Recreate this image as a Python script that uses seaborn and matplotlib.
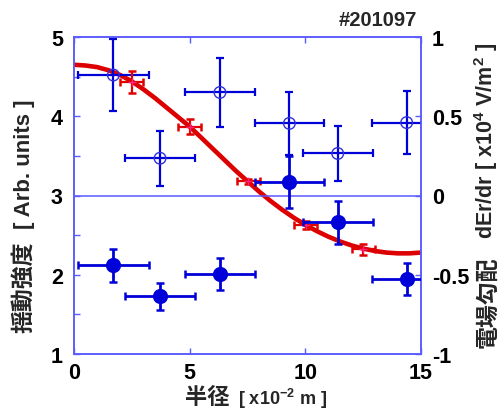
import numpy as np
import pandas as pd
import matplotlib
matplotlib.use("Agg")
import matplotlib.pyplot as plt
import seaborn as sns
from matplotlib.ticker import MultipleLocator, FixedLocator

sns.set_style("white")
plt.rcParams['font.family'] = ['Liberation Sans', 'Noto Sans CJK JP']
plt.rcParams['font.weight'] = 'bold'
plt.rcParams['mathtext.fontset'] = 'custom'
plt.rcParams['mathtext.rm'] = 'Liberation Sans:bold'
plt.rcParams['mathtext.bf'] = 'Liberation Sans:bold'
plt.rcParams['mathtext.it'] = 'Liberation Sans:bold:italic'

# ---- data ----
# open circles (fluctuation intensity, left axis)
open_x = [1.70, 3.72, 6.31, 9.31, 11.40, 14.38]
open_y = [4.52, 3.47, 4.30, 3.91, 3.53, 3.92]
open_xerr = [1.53, 1.51, 1.53, 1.48, 1.51, 1.49]
open_yerr = [0.46, 0.35, 0.43, 0.40, 0.35, 0.40]

# filled circles (dEr/dr, right axis)
fill_x = [1.70, 3.72, 6.31, 9.31, 11.40, 14.38]
fill_y = [-0.44, -0.635, -0.495, 0.085, -0.17, -0.525]
fill_xerr = [1.53, 1.51, 1.53, 1.50, 1.51, 1.49]
fill_yerr = [0.105, 0.085, 0.10, 0.165, 0.135, 0.10]

# red points (left axis)
red_x = [2.49, 5.01, 7.54, 10.02, 12.51]
red_y = [4.43, 3.87, 3.18, 2.63, 2.32]
red_xerr = [0.48, 0.50, 0.51, 0.50, 0.50]
red_yerr = [0.14, 0.09, 0.03, 0.05, 0.07]

# red fitted curve (left axis)
curve_x = [0.0, 0.5, 1.0, 1.5, 2.0, 2.5, 3.0, 3.5, 4.0, 4.5, 5.0, 5.5, 6.0, 6.5,
           7.0, 7.5, 8.0, 8.5, 9.0, 9.5, 10.0, 10.5, 11.0, 11.5, 12.0, 12.5,
           13.0, 13.5, 14.0, 14.5, 15.0]
curve_y = [4.65, 4.64, 4.62, 4.58, 4.52, 4.44, 4.34, 4.23, 4.11, 3.99, 3.87,
           3.73, 3.59, 3.45, 3.31, 3.18, 3.05, 2.93, 2.82, 2.72, 2.63, 2.55,
           2.48, 2.42, 2.37, 2.33, 2.30, 2.28, 2.27, 2.27, 2.28]

xticks = [0, 5, 10, 15]
left_ticks = [1, 2, 3, 4, 5]
right_ticks = [-1, -0.5, 0, 0.5, 1]
right_labels = ['-1', '-0.5', '0', '0.5', '1']

# ---- styling ----
W, H = 502, 410
SPINE = '#5a5aff'
BLUE = '#0000d8'
RED = '#e00000'

fig = plt.figure(figsize=(W / 100, H / 100), dpi=100)
ax = fig.add_axes([74 / W, 1 - 355 / H, (421 - 74) / W, (355 - 38) / H])
ax2 = ax.twinx()

curve_df = pd.DataFrame({'r': curve_x, 'v': curve_y})
sns.lineplot(data=curve_df, x='r', y='v', ax=ax, color='#dd0000', lw=3.3,
             sort=False, zorder=2, legend=False)

ax.errorbar(open_x, open_y, xerr=open_xerr, yerr=open_yerr, fmt='none',
            ecolor=BLUE, elinewidth=1.6, capsize=3, capthick=1.6, zorder=3)
sns.scatterplot(x=open_x, y=open_y, ax=ax, s=70, facecolor='none',
                edgecolor='#3030e0', linewidth=1.0, zorder=4)

ax.errorbar(red_x, red_y, xerr=red_xerr, yerr=red_yerr, fmt='none',
            ecolor=RED, elinewidth=1.6, capsize=3, capthick=1.8, zorder=5)
sns.scatterplot(x=red_x, y=red_y, ax=ax, marker='+', s=30, color='#ff2080',
                linewidth=1.0, zorder=6)

ax2.axhline(0, color=SPINE, lw=1.1, zorder=1)
ax2.errorbar(fill_x, fill_y, xerr=fill_xerr, yerr=fill_yerr, fmt='none',
             ecolor=BLUE, elinewidth=2.0, capsize=3, capthick=1.8, zorder=3)
sns.scatterplot(x=fill_x, y=fill_y, ax=ax2, s=120, color=BLUE,
                edgecolor=BLUE, linewidth=0, zorder=4)

ax.set_xlim(0, 15)
ax.set_ylim(1, 5)
ax2.set_ylim(-1, 1)
ax.set_xlabel('')
ax.set_ylabel('')
ax2.set_ylabel('')

ax.xaxis.set_major_locator(FixedLocator(xticks))
ax.yaxis.set_major_locator(FixedLocator(left_ticks))
ax.yaxis.set_minor_locator(MultipleLocator(0.5))
ax2.yaxis.set_major_locator(FixedLocator(right_ticks))
ax2.set_yticklabels(right_labels)

for a in (ax, ax2):
    for s in a.spines.values():
        s.set_color(SPINE)
        s.set_linewidth(1.1)
        s.set_visible(True)

TS = 15.5
ax.tick_params(axis='x', which='major', direction='in', length=4, width=1,
               color=SPINE, top=True, bottom=True, labelsize=TS, pad=6,
               labelcolor='black')
ax.tick_params(axis='y', which='both', direction='in', length=4, width=1,
               color=SPINE, left=True, right=False, labelsize=TS, pad=8,
               labelcolor='black')
ax2.tick_params(axis='y', which='major', direction='in', length=4, width=1,
                color=SPINE, right=True, labelsize=TS, pad=8,
                labelcolor='black')
for lab in ax.get_xticklabels() + ax.get_yticklabels() + ax2.get_yticklabels():
    lab.set_fontweight('bold')

def ftext(px, py, s, **kw):
    fig.text(px / W, 1 - py / H, s, **kw)

CJK = ['Noto Sans CJK JP', 'DejaVu Sans']
LAT = ['Liberation Sans', 'DejaVu Sans']

ftext(417, 21, '#201097', ha='right', va='center', fontsize=14.5, weight='bold', family=LAT)

# left label
ftext(24, 287, '揺動強度', rotation=90, ha='center', va='center', fontsize=16.5,
      weight='bold', family=CJK)
ftext(25, 164, '[ Arb. units ]', rotation=90, ha='center', va='center',
      fontsize=16, weight='bold', family=LAT)

# right label
ftext(488, 302, '電場勾配', rotation=90, ha='center', va='center', fontsize=16.5,
      weight='bold', family=CJK)
ftext(486, 141, 'dEr/dr [ x10$^4$ V/m$^2$ ]', rotation=90, ha='center',
      va='center', fontsize=15.5, weight='bold', family=LAT)

# x label
ftext(185, 398, '半径', ha='left', va='center', fontsize=16, weight='bold', family=CJK)
ftext(238, 399, '[ x10$^{-2}$ m ]', ha='left', va='center', fontsize=13,
      weight='bold', family=LAT)

fig.savefig('out.png', dpi=100)
